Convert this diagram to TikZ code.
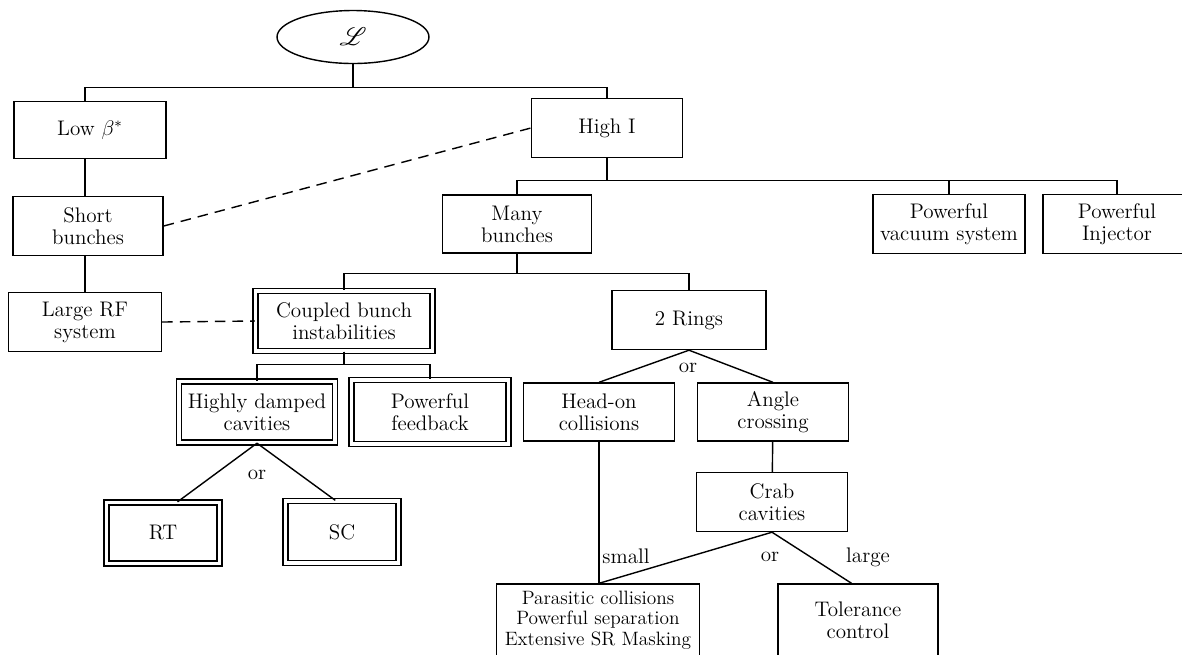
\documentclass[tikz,border=0pt]{standalone}
\usepackage{amsmath}
\usepackage{mathrsfs}
\usepackage{tikz}
\usetikzlibrary{shapes.geometric}

\begin{document}
\begin{tikzpicture}[x=0.02cm,y=-0.02cm,line width=0.8pt,
  box/.style={rectangle,draw,inner sep=0pt,align=center,font=\fontsize{12}{12.5}\selectfont},
  dbox/.style={box,double,double distance=2pt},
  lbl/.style={font=\fontsize{12}{12.5}\selectfont,inner sep=1pt}]

\useasboundingbox (0,0) rectangle (1182,654);
\clip (0,0) rectangle (1182,654);

\node [ellipse,draw,minimum width=3.04cm,minimum height=1.06cm,inner sep=0pt] (v1) at (353,37) {\Large$\mathscr{L}$};

\node [box,minimum width=3.04cm,minimum height=1.14cm] (v2) at (90,130) {Low $\beta^{*}$};
\node [box,minimum width=3.02cm,minimum height=1.18cm] (v3) at (607,128) {High I};
\node [box,minimum width=3.00cm,minimum height=1.18cm] (v4) at (88,226) {Short\\bunches};
\node [box,minimum width=2.98cm,minimum height=1.16cm] (v5) at (517,224) {Many\\bunches};
\node [box,minimum width=3.04cm,minimum height=1.18cm] (v6) at (949,224) {Powerful\\vacuum system};
\node [box,minimum width=2.96cm,minimum height=1.18cm] (v7) at (1117,224) {Powerful\\Injector};
\node [box,minimum width=3.06cm,minimum height=1.18cm] (v8) at (85,322) {Large RF\\system};
\node [dbox,minimum width=3.54cm,minimum height=1.20cm] (v9) at (344,321) {Coupled bunch\\instabilities};
\node [box,minimum width=3.08cm,minimum height=1.18cm] (v10) at (689,320) {2 Rings};
\node [dbox,minimum width=3.12cm,minimum height=1.22cm] (v11) at (257,412) {Highly damped\\cavities};
\node [dbox,minimum width=3.14cm,minimum height=1.28cm] (v12) at (430,412) {Powerful\\feedback};
\node [dbox,minimum width=2.26cm,minimum height=1.22cm] (v13) at (163,533) {RT};
\node [dbox,minimum width=2.26cm,minimum height=1.24cm] (v14) at (342,532) {SC};
\node [box,minimum width=3.02cm,minimum height=1.16cm] (v15) at (599,412) {Head-on\\collisions};
\node [box,minimum width=3.02cm,minimum height=1.16cm] (v16) at (773,412) {Angle\\crossing};
\node [box,minimum width=3.02cm,minimum height=1.18cm] (v17) at (772,502) {Crab\\cavities};
\node [box,minimum width=4.06cm,minimum height=1.44cm,font=\fontsize{11}{11.6}\selectfont] (v18) at (598,620) {Parasitic collisions\\Powerful separation\\Extensive SR Masking};
\node [box,minimum width=3.20cm,minimum height=1.44cm] (v19) at (858,620) {Tolerance\\control};

% tree lines
\draw (v1.south) -- ++(0,23) -| ([xshift=-0.1cm]v2.north);
\draw (v1.south) -- ++(0,23) -| (v3.north);
\foreach \x in {5,6,7}
    \draw (v3.south) -- ++(0,22) -| (v\x.north);
\foreach \x in {9,10}
    \draw (v5.south) -- ++(0,20) -| (v\x.north);
\foreach \x in {11,12}
    \draw (v9.south) -- ++(0,13) -| (v\x.north);
\draw (v2.south -| v8) -- (v4.north -| v8);
\draw (v4.south -| v8) -- (v8.north);

% or-branches
\draw (v11.south) -- (v13.65);
\draw (v11.south) -- (v14.102);
\node [lbl] (o1) at (257,475) {or};
\draw (v10.south) -- (v15.north);
\draw (v10.south) -- (v16.north);
\node [lbl] (o2) at (688,368) {or};
\draw (v16) -- (v17);
\draw (v15.south) -- (v15.south |- v18.north);
\draw (v17.south) -- (v15.south |- v18.north);
\draw (v17.south) -- (v19.100);
\node [lbl,anchor=west] (o3) at (600,556) {small};
\node [lbl] (o4) at (770,557) {or};
\node [lbl] (o5) at (868,557) {large};

% dashed links
\draw [dashed,dash pattern=on 6pt off 4pt] (v4.east) -- (v3.west);
\draw [dashed,dash pattern=on 6pt off 4pt] (v8.east) -- (v9.west);

\end{tikzpicture}
\end{document}
